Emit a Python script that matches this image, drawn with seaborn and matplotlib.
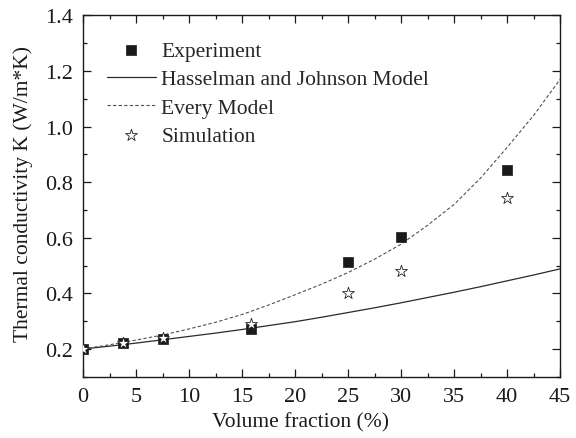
import matplotlib
matplotlib.use('Agg')
import matplotlib.pyplot as plt
import seaborn as sns
import pandas as pd
from matplotlib.ticker import MultipleLocator

# measured points
vol_exp = [0, 3.8, 7.5, 15.8, 25, 30, 40]
k_exp = [0.200, 0.220, 0.235, 0.273, 0.513, 0.603, 0.844]

vol_sim = [0, 3.8, 7.5, 15.8, 25, 30, 40]
k_sim = [0.200, 0.221, 0.241, 0.289, 0.401, 0.481, 0.742]

# model curves
vol_model = [0, 2.5, 5, 7.5, 10, 12.5, 15, 17.5, 20, 22.5,
             25, 27.5, 30, 32.5, 35, 37.5, 40, 42.5, 45]
k_hj = [0.200, 0.210, 0.221, 0.233, 0.245, 0.257, 0.270, 0.284, 0.298, 0.314,
        0.331, 0.348, 0.366, 0.385, 0.404, 0.424, 0.445, 0.466, 0.488]
k_every = [0.200, 0.215, 0.232, 0.250, 0.272, 0.296, 0.324, 0.358, 0.395, 0.433,
           0.475, 0.523, 0.577, 0.645, 0.720, 0.815, 0.925, 1.040, 1.170]

sns.set_theme(style='ticks')
plt.rcParams['font.family'] = ['Liberation Serif', 'DejaVu Serif']

fig = plt.figure(figsize=(5.76, 4.39), dpi=100)
ax = fig.add_axes([0.1444, 0.1396, 0.828, 0.823])

df_exp = pd.DataFrame({'x': vol_exp, 'y': k_exp})
df_sim = pd.DataFrame({'x': vol_sim, 'y': k_sim})
df_mod = pd.DataFrame({'x': vol_model, 'hj': k_hj, 'every': k_every})

sns.scatterplot(data=df_exp, x='x', y='y', ax=ax, marker='s', s=48,
                color='#1a1a1a', edgecolor='#1a1a1a', linewidth=0.5,
                label='Experiment', zorder=3)
sns.lineplot(data=df_mod, x='x', y='hj', ax=ax, color='#2a2a2a', lw=0.9,
             label='Hasselman and Johnson Model', zorder=2)
sns.lineplot(data=df_mod, x='x', y='every', ax=ax, color='#505050', lw=0.8,
             linestyle=(0, (3, 2)), label='Every Model', zorder=2)
sns.scatterplot(data=df_sim, x='x', y='y', ax=ax, marker='*', s=80,
                facecolor='white', edgecolor='#222222', linewidth=0.6,
                label='Simulation', zorder=4)

ax.set_xlim(0, 45)
ax.set_ylim(0.1, 1.4)
ax.xaxis.set_major_locator(MultipleLocator(5))
ax.xaxis.set_minor_locator(MultipleLocator(2.5))
ax.yaxis.set_minor_locator(MultipleLocator(0.1))
ax.set_yticks([0.2, 0.4, 0.6, 0.8, 1.0, 1.2, 1.4])

ax.tick_params(which='both', direction='in', top=True, right=True,
               colors='#1a1a1a', labelsize=16, width=0.9)
ax.tick_params(which='major', length=5.5, pad=7.5)
ax.tick_params(which='minor', length=3)
for sp in ax.spines.values():
    sp.set_linewidth(1.0)
    sp.set_color('#1a1a1a')

ax.set_xlabel('Volume fraction (%)', fontsize=15.5, color='#1a1a1a')
ax.set_ylabel('Thermal conductivity K (W/m*K)', fontsize=15.5, color='#1a1a1a')
ax.xaxis.set_label_coords(0.456, -0.125)
ax.yaxis.set_label_coords(-0.125, 0.508)
ax.xaxis.label.set_va('center')
ax.yaxis.label.set_va('center')

ax.legend(loc='upper left', bbox_to_anchor=(0.049, 0.929), frameon=False,
          fontsize=15.5, handlelength=2.3, handletextpad=0.25,
          labelspacing=0.38, borderpad=0, borderaxespad=0)

fig.savefig('out.png', dpi=100)
